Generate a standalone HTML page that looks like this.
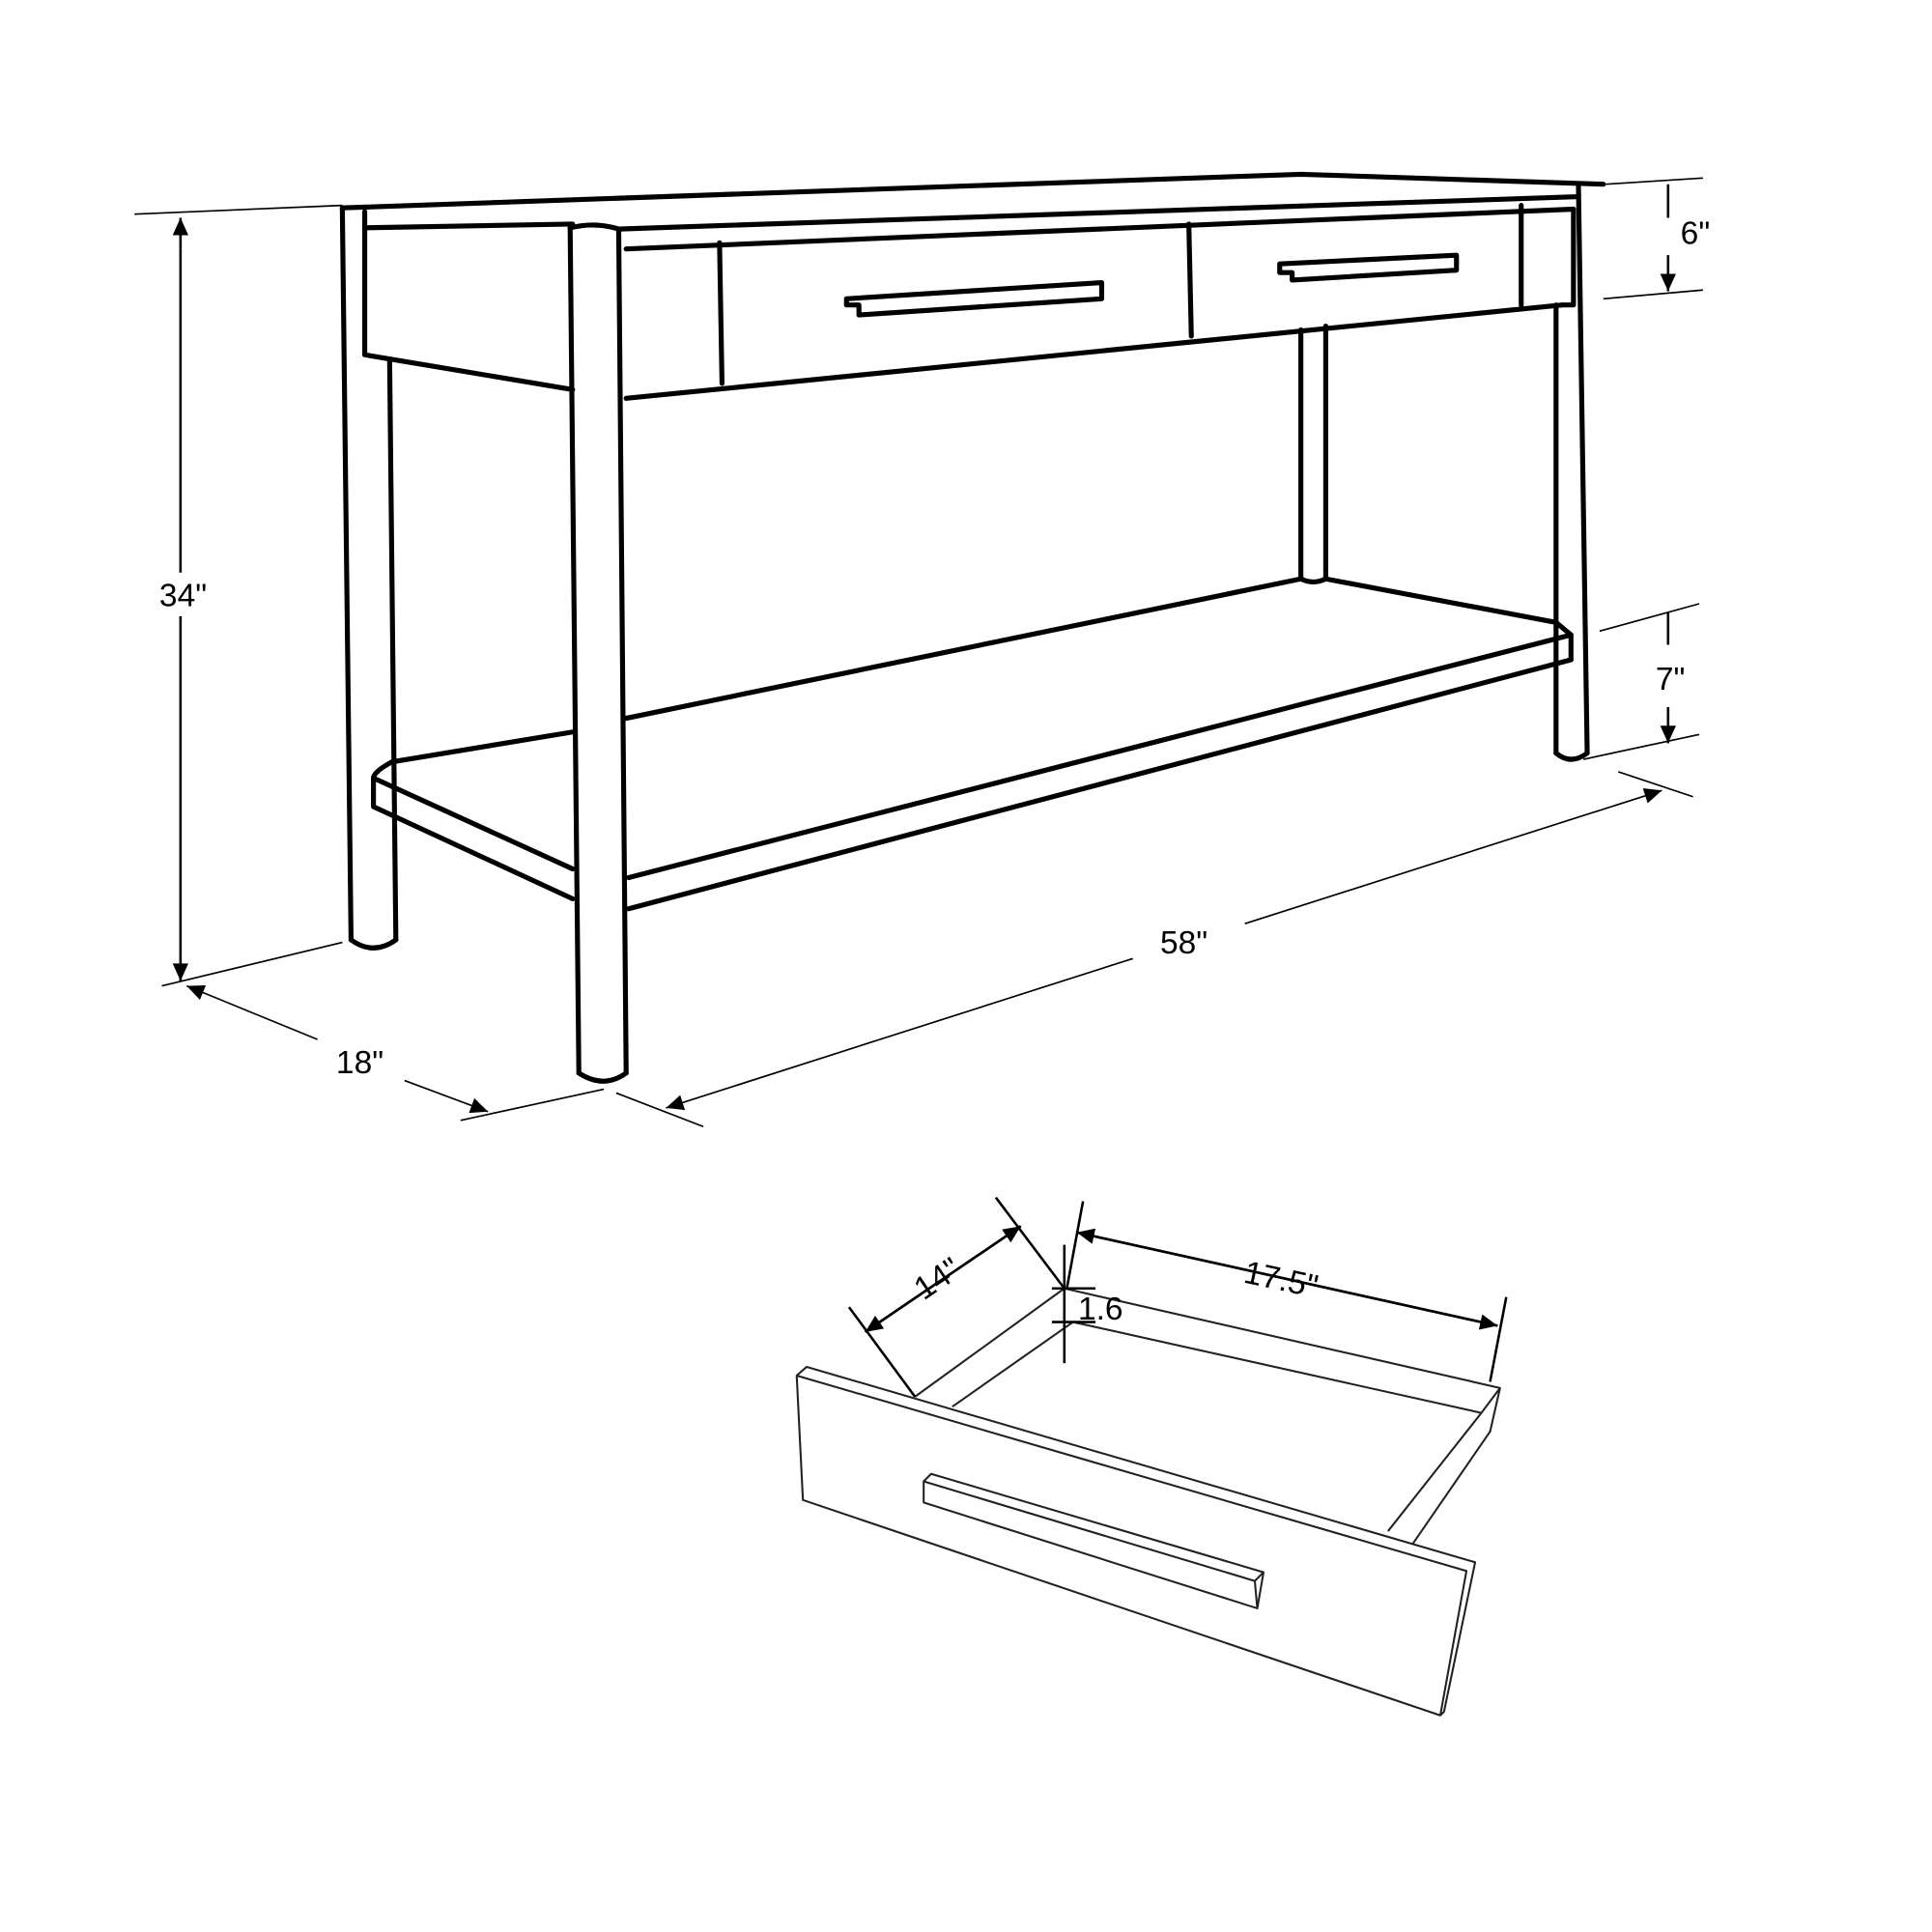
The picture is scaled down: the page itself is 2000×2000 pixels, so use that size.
<!DOCTYPE html>
<html><head><style>html,body{margin:0;padding:0;background:#fff}svg{display:block}</style></head><body>
<svg width="2000" height="2000" viewBox="0 0 1552 1552" xmlns="http://www.w3.org/2000/svg">
<defs><marker id="a" viewBox="0 0 10 10" refX="10" refY="5" markerUnits="userSpaceOnUse" markerWidth="20" markerHeight="14" orient="auto-start-reverse"><path d="M0,0.5L10,5L0,9.5z" fill="#000"/></marker></defs>
<g fill="none" stroke="#000" stroke-width="4" stroke-linejoin="round" stroke-linecap="round">
<path d="M275,167L1045,140L1288,148"/>
<path d="M460,180L293,183"/>
<path d="M497,184L1268,158"/>
<path d="M503,200L1264,168"/>
<path d="M275,167L282,755"/>
<path d="M293,170L293,183"/>
<path d="M313,290L318,755"/>
<path d="M282,755Q300,768 318,755"/>
<path d="M293,183L293,285L460,313"/>
<path d="M458,183L465,862"/>
<path d="M497,184L503,862"/>
<path d="M458,183Q478,178 497,184"/>
<path d="M465,862Q485,875 503,862"/>
<path d="M1268,150L1275,605"/>
<path d="M1250,245L1250,605"/>
<path d="M1250,605Q1262,615 1275,605"/>
<path d="M1222,165L1222,245"/>
<path d="M1045,265L1045,465"/>
<path d="M1065,262L1065,465"/>
<path d="M1045,465Q1055,470 1065,465"/>
<path d="M503,320L1255,245"/>
<path d="M578,195L580,308"/>
<path d="M955,180L957,270"/>
<path d="M1264,168L1264,245L1255,245"/>
<path d="M680,240L885,227L885,240L690,253L690,245L680,245Z"/>
<path d="M1028,212L1170,205L1170,217L1038,225L1038,219L1028,219Z"/>
<path d="M315,612L460,588"/>
<path d="M503,577L1045,465"/>
<path d="M1065,465L1250,500L1262,510L1262,530"/>
<path d="M315,612Q300,620 300,625L460,698"/>
<path d="M300,625L300,648L460,722"/>
<path d="M505,705L1262,510"/>
<path d="M505,730L1262,530"/>
</g>
<g fill="none" stroke="#000" stroke-width="1.3">
<path d="M108,172L275,165M130,792L275,757"/>
<path d="M145,200L145,460M145,495L145,788" stroke-width="2" marker-end="url(#a)"/>
<path d="M145,200L145,175" stroke-width="2" marker-end="url(#a)"/>
<path d="M325,868L392,893" marker-end="url(#a)"/>
<path d="M255,835L150,792" marker-end="url(#a)"/>
<path d="M370,900L485,875M495,878L565,905"/>
<path d="M1000,742L1335,635" marker-end="url(#a)"/>
<path d="M910,770L535,890" marker-end="url(#a)"/>
<path d="M1300,620L1360,640"/>
<path d="M1290,148L1368,143M1288,240L1368,233"/>
<path d="M1340,175L1340,148M1340,205L1340,234" stroke-width="2" marker-end="url(#a)"/>
<path d="M1285,507L1365,485M1272,610L1365,590"/>
<path d="M1340,518L1340,492M1340,568L1340,597" stroke-width="2" marker-end="url(#a)"/>
</g>
<g font-family="Liberation Sans, sans-serif" font-size="26" fill="#000">
<text x="128" y="487">34"</text>
<text x="270" y="862">18"</text>
<text x="932" y="766">58"</text>
<text x="1350" y="196">6"</text>
<text x="1330" y="554">7"</text>
</g>
<g fill="none" stroke="#222" stroke-width="1.6" stroke-linejoin="round">
<path d="M640,1105L648,1098L1185,1255L1160,1375L1157,1378L645,1205Z"/>
<path d="M640,1105L1178,1262L1157,1378"/>
<path d="M742,1190L748,1184L1015,1263L1010,1292L742,1207Z"/>
<path d="M742,1190L1008,1270L1010,1292M1008,1270L1015,1263"/>
<path d="M735,1122L855,1035L1205,1115L1197,1150L1135,1240"/>
<path d="M765,1130L862,1062L1190,1135L1115,1230"/>
<path d="M1190,1135L1205,1115"/>
</g>
<g fill="none" stroke="#000" stroke-width="2">
<path d="M695,1070L820,985" marker-end="url(#a)"/><path d="M820,985L695,1070" marker-end="url(#a)"/>
<path d="M682,1050L735,1122M800,962L855,1035"/>
<path d="M865,990L1203,1065" marker-end="url(#a)"/><path d="M1203,1065L865,990" marker-end="url(#a)"/>
<path d="M870,965L857,1035M1210,1042L1197,1110"/>
<path d="M855,1000L855,1095M845,1035L880,1035M845,1062L880,1062"/>
</g>
<g font-family="Liberation Sans, sans-serif" font-size="26" fill="#000">
<text x="0" y="0" transform="translate(742,1045) rotate(-34)">14"</text>
<text x="0" y="0" transform="translate(998,1030) rotate(12)">17.5"</text>
<text x="866" y="1060">1.6</text>
</g>
</svg>
</body></html>
